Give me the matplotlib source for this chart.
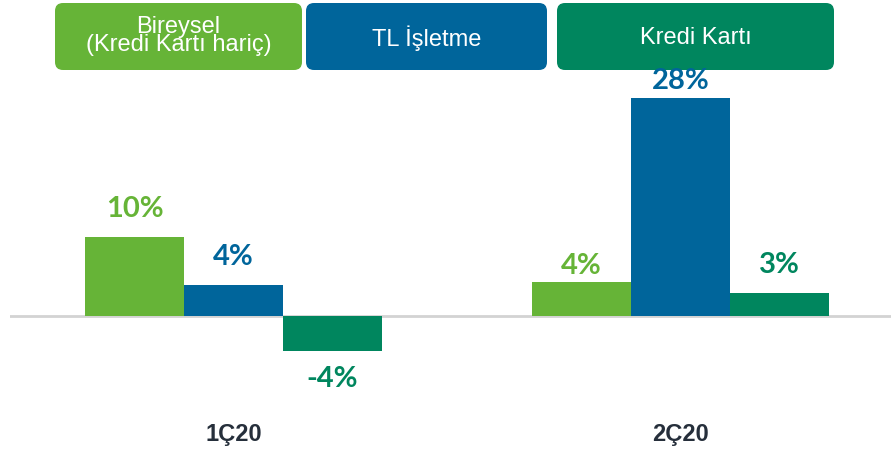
import matplotlib
matplotlib.use('Agg')
import matplotlib.pyplot as plt
from matplotlib.patches import FancyBboxPatch
import numpy as np

categories = ['1Ç20', '2Ç20']
series_names = ['Bireysel\n(Kredi Kartı hariç)', 'TL İşletme', 'Kredi Kartı']
bireysel = [10.1, 4.3]
tl_isletme = [4.0, 28.0]
kredi_karti = [-4.5, 2.95]
bireysel_labels = ['10%', '4%']
tl_labels = ['4%', '28%']
kk_labels = ['-4%', '3%']

colors = ['#66b437', '#00659b', '#00865e']
# label distance from bar end (points), per series / category
label_off = [[20, 12], [20, 12], [20, 20]]

fig = plt.figure(figsize=(8.91, 4.53), dpi=100)

# legend boxes drawn in pixel coords
ov = fig.add_axes([0, 0, 1, 1], zorder=0)
ov.set_xlim(0, 891)
ov.set_ylim(453, 0)
ov.axis('off')
boxes = [(55, 302), (306, 547), (557, 834)]
for (x0, x1), name, col in zip(boxes, series_names, colors):
    pad = 8
    ov.add_patch(FancyBboxPatch((x0 + pad, 3 + pad), x1 - x0 - 2 * pad, 67 - 2 * pad,
                                boxstyle='round,pad=%d' % pad, fc=col, ec='none'))
    if '\n' in name:
        ov.text((x0 + x1) / 2, 36, name, ha='center', va='center', fontsize=17,
                family='Liberation Sans', color='white', linespacing=0.78)
    else:
        ov.text((x0 + x1) / 2, 38, name, ha='center', va='center', fontsize=17,
                family='Liberation Sans', color='white')

ax = fig.add_axes([10 / 891, 0, 881 / 891, 373 / 453], zorder=1)
ax.patch.set_alpha(0)

x = np.arange(len(categories))
w = 0.2215
all_vals = [bireysel, tl_isletme, kredi_karti]
all_labels = [bireysel_labels, tl_labels, kk_labels]

for i, (vals, labs) in enumerate(zip(all_vals, all_labels)):
    pos = x + (i - 1) * w
    ax.bar(pos, vals, width=w, color=colors[i], edgecolor='none', zorder=2)
    for j, (p, v, lab) in enumerate(zip(pos, vals, labs)):
        off = label_off[i][j] if v >= 0 else -label_off[i][j]
        ax.annotate(lab, (p, v), xytext=(0, off), textcoords='offset points',
                    ha='center', va='center', fontsize=21, fontweight='bold',
                    family='Lato', color=colors[i], annotation_clip=False)

ax.axhline(0, color='#d3d3d3', lw=2, zorder=1)
ax.set_xlim(-0.5, 1.471)
ax.set_ylim(-17.56, 30.26)
ax.axis('off')

for p, c in zip(x, categories):
    ax.text(p, -15.2, c, ha='center', va='center', fontsize=17, fontweight='bold',
            family='Liberation Sans', color='#262f3b')

fig.savefig('out.png', dpi=100)
